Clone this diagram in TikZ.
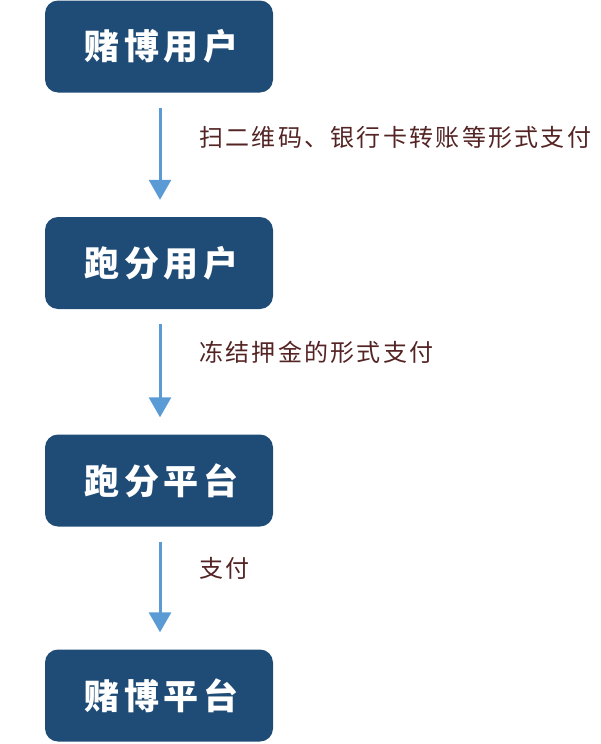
\documentclass[tikz,border=0pt]{standalone}
\usepackage{fontspec}
\usetikzlibrary{arrows.meta}
\newfontfamily\boxfont[LetterSpace=14]{Noto Sans CJK SC}
\newfontfamily\labfont[LetterSpace=9.5]{Noto Sans CJK SC}
\definecolor{boxblue}{RGB}{31,76,118}
\definecolor{arrowblue}{RGB}{91,155,213}
\definecolor{labbrown}{RGB}{84,36,36}
\tikzset{
  stage/.style={draw=none, fill=boxblue, rounded corners=13pt,
    minimum width=228pt, minimum height=92pt, inner sep=0pt,
    text=white, font=\boxfont\bfseries\fontsize{35}{40}\selectfont},
  flow/.style={draw=arrowblue, line width=3pt,
    -{Triangle[width=22pt,length=20pt]}, shorten <=15pt, shorten >=17pt},
  lab/.style={anchor=west, inner sep=0pt, text=labbrown,
    font=\labfont\fontsize{24}{28}\selectfont}
}
\begin{document}
\begin{tikzpicture}[x=1pt,y=-1pt]
\useasboundingbox (0,0) rectangle (600,744);
\node[stage] (a) at (159,46.5) {赌博用户\kern-5pt};
\node[stage] (b) at (159,263) {跑分用户\kern-5pt};
\node[stage] (c) at (159,480.5) {跑分平台\kern-5pt};
\node[stage] (d) at (159,695.5) {赌博平台\kern-5pt};
\draw[flow] ([xshift=1pt]a.south) -- ([xshift=1pt]b.north);
\draw[flow] ([xshift=1pt]b.south) -- ([xshift=1pt]c.north);
\draw[flow] ([xshift=1pt]c.south) -- ([xshift=1pt]d.north);
\node[lab] (la) at (199,137) {扫二维码、银行卡转账等形式支付};
\node[lab] (lb) at (199,352) {冻结押金的形式支付};
\node[lab] (lc) at (199,568) {支付};
\end{tikzpicture}
\end{document}
